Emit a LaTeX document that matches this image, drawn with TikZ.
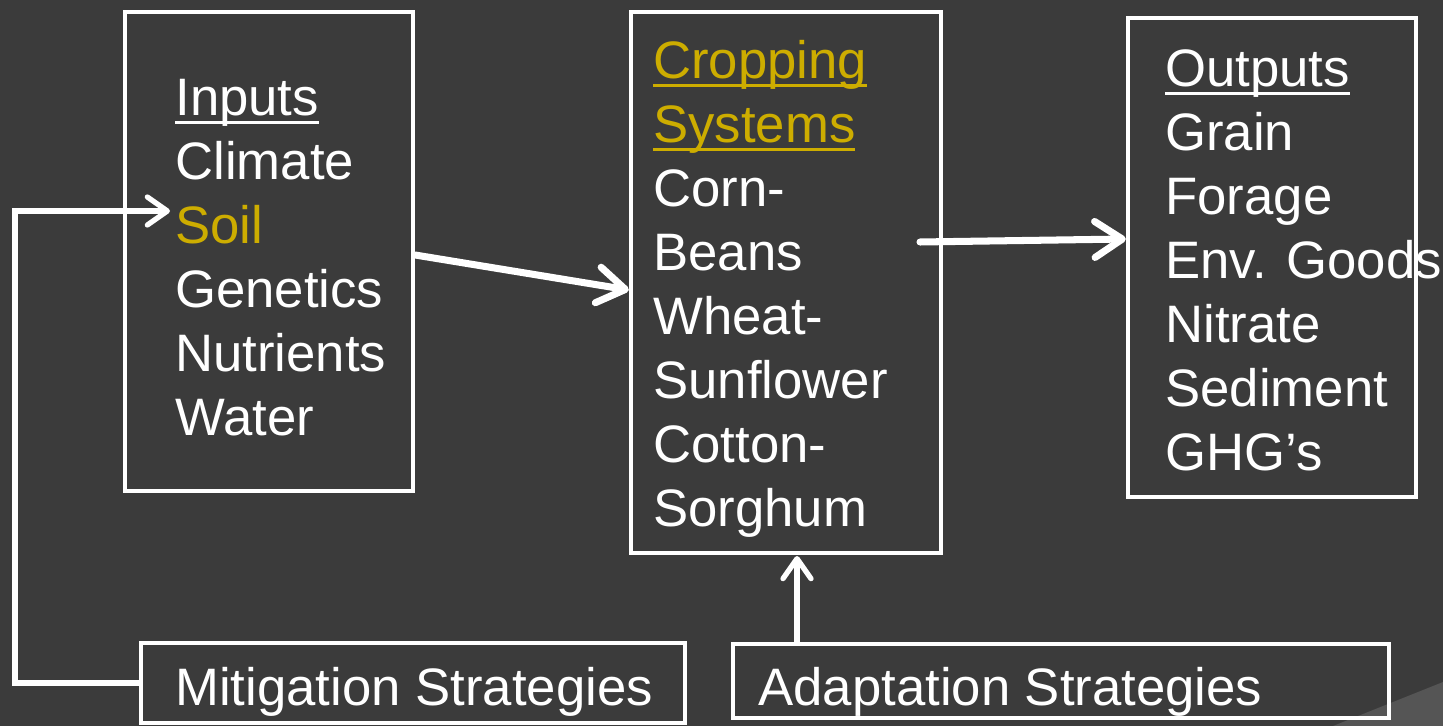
\documentclass[tikz,border=0pt]{standalone}
\usepackage{fontspec}
\setmainfont{Liberation Sans}
\usepackage{tikz}
\usetikzlibrary{arrows.meta, positioning}

\definecolor{slidebg}{RGB}{59,59,59}
\definecolor{slidecorner}{RGB}{85,85,85}
\definecolor{gold}{RGB}{205,173,0}

% underline that crosses the descenders, as in the slide
\newcommand{\ulin}[1]{\leavevmode\setbox0\hbox{#1}\rlap{\rule[-0.17em]{\wd0}{0.07em}}\box0}

\begin{document}
\begin{tikzpicture}[
    x=0.02cm, y=-0.02cm,
    box/.style={rectangle, draw=white, line width=2.5pt, inner sep=0pt},
    txt/.style={anchor=base west, inner sep=0pt, align=left, text=white,
                font=\fontsize{30}{36.4}\selectfont},
    bigarrow/.style={draw=white, line width=4pt, line cap=round,
                     -{Straight Barb[length=0.55cm, width=0.72cm, round]}},
    arrow/.style={draw=white, line width=3pt,
                  -{Straight Barb[length=0.4cm, width=0.56cm, round]}}
]

% Slide background
\fill[slidebg] (0,0) rectangle (1443,726);
\useasboundingbox (0,0) rectangle (1443,726);
\fill[slidecorner] (1333,726) -- (1443,682) -- (1443,726) -- cycle;

% Boxes
\node[box, minimum width=5.76cm, minimum height=9.58cm] (inbox) at (269,251.5) {};
\node[box, minimum width=6.2cm, minimum height=10.82cm] (cropbox) at (786,282.5) {};
\node[box, minimum width=5.76cm, minimum height=9.58cm] (outbox) at (1272,257.5) {};
\node[box, minimum width=10.88cm, minimum height=1.6cm] (mitbox) at (413,683) {};
\node[box, minimum width=13.12cm, minimum height=1.48cm] (adaptbox) at (1061,681) {};

% Texts (placed at the baseline of their last line)
\node[txt] (intext) at (175,435)
    {\ulin{Inputs}\\Climate\\\textcolor{gold}{Soil}\\Genetics\\Nutrients\\Water};
\node[txt] (croptext) at (653,526)
    {\textcolor{gold}{\ulin{Cropping}}\\\textcolor{gold}{\ulin{Systems}}\\Corn-\\Beans\\Wheat-\\Sunflower\\Cotton-\\Sorghum};
\node[txt] (outtext) at (1165,470)
    {\ulin{Outputs}\\Grain\\Forage\\Env. Goods\\Nitrate\\Sediment\\GHG's};
\node[txt] (mittext) at (175,705) {Mitigation Strategies};
\node[txt] (adapttext) at (758,705) {Adaptation Strategies};

% Arrows
\coordinate (cropout) at (920,242);
\coordinate (soiltip) at (170,211);
\coordinate (turn) at (15,211);
\coordinate (croptip) at (797,556);

\draw[bigarrow] ([yshift=-0.07cm]inbox.east) -- ([yshift=-0.15cm]cropbox.west);
\draw[bigarrow] (cropout) -- ([yshift=0.37cm]outbox.west);
\draw[arrow] (adaptbox.north -| croptip) -- (croptip);
\draw[arrow] (mitbox.west) -| (turn) -- (soiltip);

\end{tikzpicture}
\end{document}
